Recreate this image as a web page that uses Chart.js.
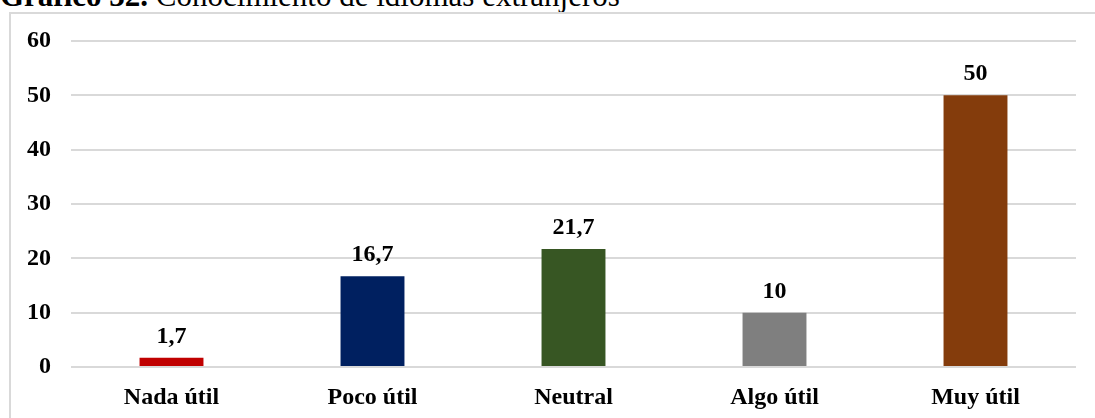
<!DOCTYPE html>
<html lang="es">
<head>
<meta charset="utf-8">
<title>Gráfico 32</title>
<script src="https://cdn.jsdelivr.net/npm/chart.js@4/dist/chart.umd.min.js"></script>
<style>
  html, body { margin: 0; padding: 0; background: #fff; overflow: hidden; }
  body { width: 1095px; height: 418px; position: relative; font-family: 'Liberation Serif', 'Times New Roman', serif; }
  .title { position: absolute; left: 0; top: -20px; font-size: 31px; line-height: 31px; white-space: nowrap; color: #000; }
  .frame { position: absolute; left: 9px; top: 12px; width: 1200px; height: 600px; border: 2px solid #d9d9d9; box-sizing: border-box; }
  #chart { position: absolute; left: 0; top: 0; }
</style>
</head>
<body>
<div class="title"><b>Gráfico 32.</b> Conocimiento de idiomas extranjeros</div>
<div class="frame"></div>
<canvas id="chart" width="1095" height="418"></canvas>
<script>
// Utilidad percibida
const categories = ['Nada útil', 'Poco útil', 'Neutral', 'Algo útil', 'Muy útil'];
const values = [1.7, 16.7, 21.7, 10, 50];
const barColors = ['#c00000', '#002060', '#375623', '#7f7f7f', '#843c0c'];
const yTicks = [0, 10, 20, 30, 40, 50, 60];

const serif = "'Liberation Serif', 'Times New Roman', serif";

// value labels above each bar, decimal comma
const valueLabels = {
    id: 'valueLabels',
    afterDatasetsDraw(chart) {
        const ctx = chart.ctx;
        const meta = chart.getDatasetMeta(0);
        ctx.save();
        ctx.font = `bold 24px ${serif}`;
        ctx.fillStyle = '#000';
        ctx.textAlign = 'center';
        ctx.textBaseline = 'alphabetic';
        meta.data.forEach((bar, i) => {
            const txt = String(values[i]).replace('.', ',');
            ctx.fillText(txt, bar.x, bar.y - 15);
        });
        ctx.restore();
    }
};

new Chart(document.getElementById('chart'), {
    type: 'bar',
    data: {
        labels: categories,
        datasets: [{
            data: values,
            backgroundColor: barColors,
            borderWidth: 0,
            categoryPercentage: 1,
            barPercentage: 0.318
        }]
    },
    options: {
        responsive: false,
        animation: false,
        layout: { padding: { top: 41, right: 19, bottom: 0, left: 0 } },
        plugins: { legend: { display: false }, tooltip: { enabled: false } },
        scales: {
            x: {
                grid: { display: false, drawTicks: false },
                border: { display: false },
                ticks: { color: '#000', font: { family: serif, size: 24, weight: 'bold' }, padding: 16, maxRotation: 0 },
                afterFit(scale) { scale.height = 51; }
            },
            y: {
                min: 0,
                max: 60,
                afterBuildTicks(scale) { scale.ticks = yTicks.map(v => ({ value: v })); },
                grid: { color: '#d9d9d9', lineWidth: 2, drawTicks: false },
                border: { display: false },
                ticks: { color: '#000', font: { family: serif, size: 24, weight: 'bold' }, padding: 20 },
                afterFit(scale) { scale.width = 71; }
            }
        }
    },
    plugins: [valueLabels]
});
</script>
</body>
</html>
